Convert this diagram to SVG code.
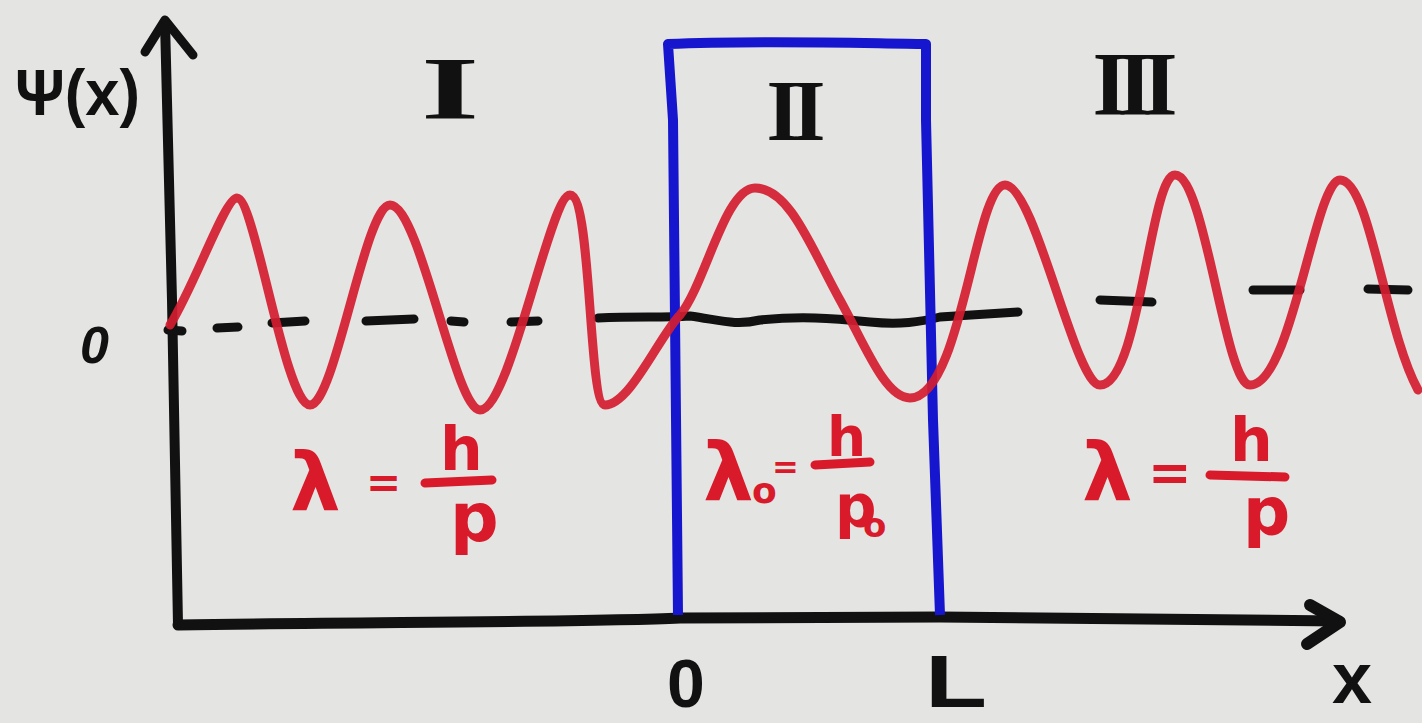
<svg xmlns="http://www.w3.org/2000/svg" width="1422" height="723" viewBox="0 0 1422 723">
<style>
.ink{fill:none;stroke:#111;stroke-linecap:round;stroke-linejoin:round}
.red{fill:#d81a2a;font-family:"DejaVu Sans",sans-serif;font-weight:bold}
.blk{fill:#111;font-family:"Liberation Sans",sans-serif;font-weight:bold}
.rom{fill:#111;font-family:"Liberation Serif",serif;font-weight:bold;text-anchor:middle}
.bar{stroke:#d81a2a;stroke-width:9;stroke-linecap:round}
</style>
<rect width="1422" height="723" fill="#e4e4e2"/>
<g id="axes">
<path class="ink" stroke-width="10" d="M178,625 L172,300 L165,22"/>
<path class="ink" stroke-width="9" d="M145,52 L165,20 L193,55"/>
<path class="ink" stroke-width="11" d="M178,625 C400,622 600,622 680,618 L940,617 L1338,621"/>
<path class="ink" stroke-width="12" d="M1310,605 L1340,622 L1307,644"/>
</g>
<g id="zero-line" class="ink" stroke-width="9">
<path d="M168,330 L182,331"/>
<path d="M217,328 L238,327"/>
<path d="M272,323 L305,321"/>
<path d="M366,321 L414,319"/>
<path d="M451,321 L464,322"/>
<path d="M511,322 L538,321"/>
<path d="M598,318 C640,316 660,318 690,316 C720,320 735,326 760,320 C800,316 830,318 870,322 C900,325 920,322 940,317 L1018,312"/>
<path d="M1100,300 L1152,302"/>
<path d="M1253,290 L1300,290"/>
<path d="M1368,289 L1408,290"/>
</g>
<g id="region-II-box">
<path fill="none" stroke="#1616cf" stroke-width="10" stroke-linejoin="round" d="M678,615 L673,120 L668,44 C760,40 850,43 926,44 L926,120 L933,420 L940,615"/>
</g>
<g id="wave">
<path fill="none" stroke="#d41d30" stroke-width="9" stroke-opacity="0.92" stroke-linecap="round" stroke-linejoin="round" d="M170,325 C195,285 225,198 237,198 C255,198 285,405 310,405 C335,405 365,205 390,205 C420,205 455,410 480,410 C510,410 550,195 570,195 C592,195 588,405 605,405 C630,405 660,335 680,315 C705,285 725,188 755,188 C790,188 812,250 840,300 C865,345 885,398 910,398 C962,398 975,185 1005,185 C1035,185 1075,385 1100,385 C1140,385 1150,175 1175,175 C1205,175 1225,385 1250,385 C1292,385 1315,180 1340,180 C1370,180 1385,330 1418,390"/>
</g>
<g id="labels">
<text class="blk" x="15" y="115" font-size="64" textLength="125" lengthAdjust="spacingAndGlyphs" font-family="DejaVu Sans">Ψ(x)</text>
<text class="blk" x="80" y="363" font-size="52" font-style="italic">0</text>
<text class="blk" x="667" y="707" font-size="68">0</text>
<text class="blk" x="925" y="707" font-size="74" textLength="62" lengthAdjust="spacingAndGlyphs">L</text>
<text class="blk" x="1332" y="703" font-size="72">x</text>
<text class="rom" transform="translate(450,118) scale(1.7,1)" font-size="88">I</text>
<text class="rom" x="792" y="140" font-size="86" letter-spacing="-8">II</text>
<text class="rom" x="1130" y="115" font-size="90" letter-spacing="-10">III</text>
</g>
<g id="formula-I">
<text class="red" x="290" y="510" font-size="80">λ</text>
<text class="red" x="366" y="497" font-size="42">=</text>
<line class="bar" x1="425" y1="483" x2="492" y2="480"/>
<text class="red" x="440" y="470" font-size="60">h</text>
<text class="red" x="450" y="541" font-size="68">p</text>
</g>
<g id="formula-II">
<text class="red" x="703" y="500" font-size="80">λ</text>
<text class="red" x="752" y="503" font-size="36">o</text>
<text class="red" x="772" y="478" font-size="32">=</text>
<line class="bar" x1="815" y1="465" x2="870" y2="462"/>
<text class="red" x="827" y="456" font-size="55">h</text>
<text class="red" x="835" y="527" font-size="58">p</text>
<text class="red" x="863" y="537" font-size="34">o</text>
</g>
<g id="formula-III">
<text class="red" x="1082" y="500" font-size="80">λ</text>
<text class="red" x="1148" y="490" font-size="52">=</text>
<line class="bar" x1="1210" y1="475" x2="1285" y2="477"/>
<text class="red" x="1230" y="461" font-size="60">h</text>
<text class="red" x="1243" y="534" font-size="66">p</text>
</g>
</svg>
